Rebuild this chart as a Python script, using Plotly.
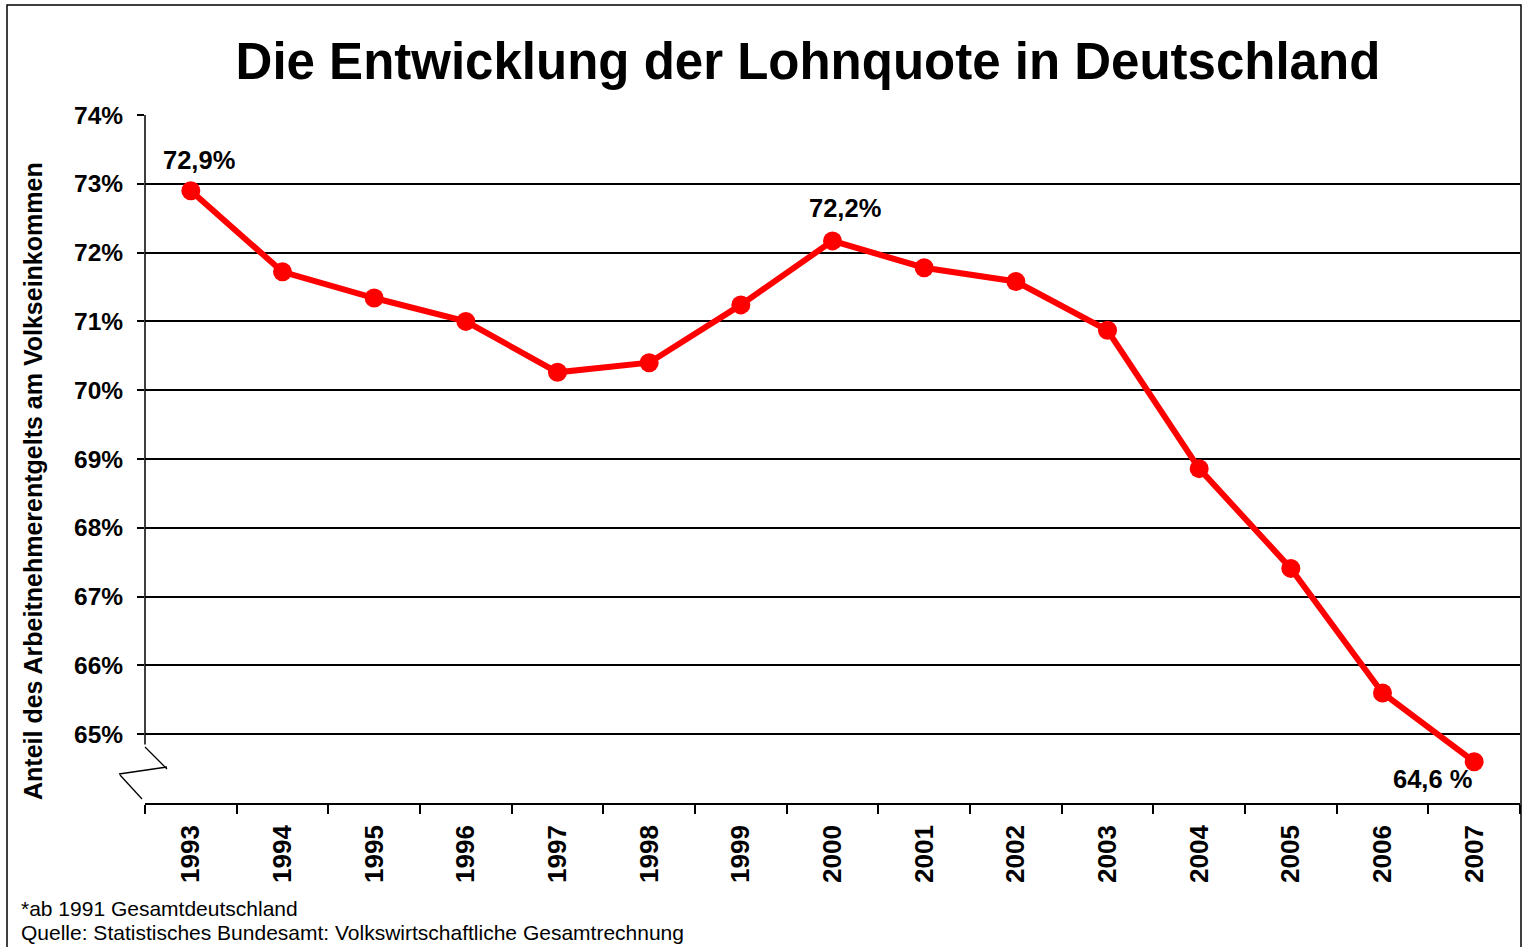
import plotly.graph_objects as go

years = ["1993", "1994", "1995", "1996", "1997", "1998", "1999", "2000",
         "2001", "2002", "2003", "2004", "2005", "2006", "2007"]
lohnquote = [72.90, 71.72, 71.34, 71.00, 70.26, 70.40, 71.24, 72.17,
             71.78, 71.58, 70.87, 68.86, 67.41, 65.60, 64.60]
y_ticks = [65, 66, 67, 68, 69, 70, 71, 72, 73, 74]
y_ticklabels = [f"{v}%" for v in y_ticks]
label_years = ["1993", "2000", "2007"]
label_texts = ["72,9%", "72,2%", "64,6 %"]
label_shifts = [(8, 31), (12, 33), (-42, -17)]

FONT = "Liberation Sans, Arial, sans-serif"

W, H = 1523, 947
ml, mr, mt, mb = 145, 3, 115, 144
pw, ph = W - ml - mr, H - mt - mb

def px(x):
    return (x - ml) / pw

def py(y):
    return (H - mb - y) / ph

fig = go.Figure()
fig.add_trace(go.Scatter(
    x=years, y=lohnquote, mode="lines+markers",
    line=dict(color="#FF0000", width=6),
    marker=dict(color="#FF0000", size=19),
    showlegend=False, hoverinfo="x+y",
))

annotations = []
for yr, txt, (dx, dy) in zip(label_years, label_texts, label_shifts):
    i = years.index(yr)
    annotations.append(dict(xref="x", yref="y", x=i, y=lohnquote[i], text=txt,
                            showarrow=False, xshift=dx, yshift=dy,
                            font=dict(family=FONT, size=25.5, color="black", weight="bold")))
annotations += [
    dict(xref="paper", yref="paper", x=px(33), y=py(481), xanchor="center", yanchor="middle",
         text="<b>Anteil des Arbeitnehmerentgelts am Volkseinkommen</b>", textangle=-90,
         showarrow=False, font=dict(family=FONT, size=25, color="black")),
    dict(xref="paper", yref="paper", x=px(19), y=py(908), xanchor="left", yanchor="middle",
         text="*ab 1991 Gesamtdeutschland", showarrow=False,
         font=dict(family=FONT, size=21, color="black")),
    dict(xref="paper", yref="paper", x=px(19), y=py(932), xanchor="left", yanchor="middle",
         text="Quelle: Statistisches Bundesamt: Volkswirtschaftliche Gesamtrechnung", showarrow=False,
         font=dict(family=FONT, size=21, color="black")),
]

shapes = []
shapes.append(dict(type="rect", xref="paper", yref="paper",
                   x0=px(7), x1=px(1521), y0=py(960), y1=py(5),
                   line=dict(color="black", width=1.5), fillcolor="rgba(0,0,0,0)", layer="below"))
shapes.append(dict(type="line", xref="paper", yref="y", x0=0, x1=0, y0=64.85, y1=74,
                   line=dict(color="black", width=1.5)))
brk = [(145, 747, 167, 769), (167, 767, 119, 774), (120, 775, 142, 799)]
for x0, y0, x1, y1 in brk:
    shapes.append(dict(type="line", xref="paper", yref="paper",
                       x0=px(x0), y0=py(y0), x1=px(x1), y1=py(y1),
                       line=dict(color="black", width=1.3)))

fig.update_layout(
    width=W, height=H,
    margin=dict(l=ml, r=mr, t=mt, b=mb),
    paper_bgcolor="white", plot_bgcolor="white",
    title=dict(text="<b>Die Entwicklung der Lohnquote in Deutschland</b>",
               x=0.5305, xanchor="center", y=0.935, yanchor="middle",
               font=dict(family=FONT, size=51, color="black")),
    xaxis=dict(type="category", categoryorder="array", categoryarray=years,
               range=[-0.5, len(years) - 0.5],
               showline=True, linecolor="black", linewidth=1.5,
               ticks="outside", ticklen=9, tickcolor="black", tickwidth=1.5,
               tickson="boundaries", showgrid=False, tickangle=-90,
               ticklabelstandoff=10,
               tickfont=dict(family=FONT, size=26, color="black", weight="bold"),
               fixedrange=True),
    yaxis=dict(range=[64, 74], tickvals=y_ticks, ticktext=y_ticklabels,
               showgrid=True, gridcolor="black", gridwidth=1.5,
               showline=False, zeroline=False,
               ticks="outside", ticklen=7, tickcolor="black", tickwidth=1.5,
               ticklabelstandoff=9,
               tickfont=dict(family=FONT, size=24.5, color="black", weight="bold"),
               fixedrange=True),
    shapes=shapes,
    annotations=annotations,
)

fig.write_html("out.html", config={"displayModeBar": False},
               post_script="document.body.style.margin='0';")
